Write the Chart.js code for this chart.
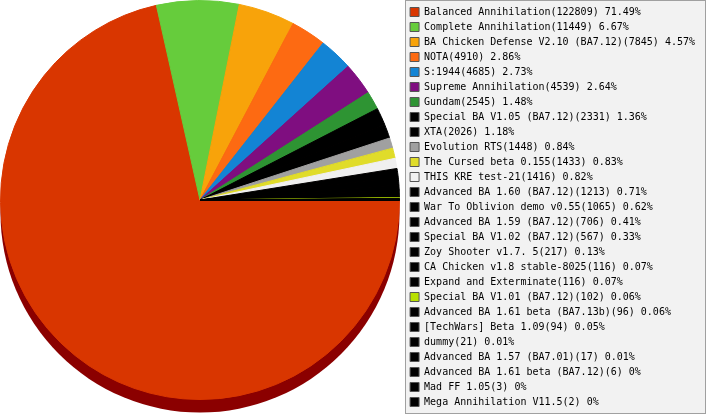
<!DOCTYPE html>
<html>
<head>
<meta charset="utf-8">
<script src="https://cdn.jsdelivr.net/npm/chart.js@4/dist/chart.umd.min.js"></script>
<style>
  html, body { margin: 0; padding: 0; background: #fff; }
</style>
</head>
<body>
<canvas id="myChart" width="707" height="415"></canvas>
<script>
var names = [
  "Balanced Annihilation", "Complete Annihilation", "BA Chicken Defense V2.10 (BA7.12)",
  "NOTA", "S:1944", "Supreme Annihilation", "Gundam", "Special BA V1.05 (BA7.12)",
  "XTA", "Evolution RTS", "The Cursed beta 0.155", "THIS KRE test-21",
  "Advanced BA 1.60 (BA7.12)", "War To Oblivion demo v0.55", "Advanced BA 1.59 (BA7.12)",
  "Special BA V1.02 (BA7.12)", "Zoy Shooter v1.7. 5", "CA Chicken v1.8 stable-8025",
  "Expand and Exterminate", "Special BA V1.01 (BA7.12)", "Advanced BA 1.61 beta (BA7.13b)",
  "[TechWars] Beta 1.09", "dummy", "Advanced BA 1.57 (BA7.01)",
  "Advanced BA 1.61 beta (BA7.12)", "Mad FF 1.05", "Mega Annihilation V11.5"
];
var counts = [122809, 11449, 7845, 4910, 4685, 4539, 2545, 2331, 2026, 1448, 1433, 1416,
  1213, 1065, 706, 567, 217, 116, 116, 102, 96, 94, 21, 17, 6, 3, 2];
var percents = ["71.49", "6.67", "4.57", "2.86", "2.73", "2.64", "1.48", "1.36", "1.18",
  "0.84", "0.83", "0.82", "0.71", "0.62", "0.41", "0.33", "0.13", "0.07", "0.07", "0.06",
  "0.06", "0.05", "0.01", "0.01", "0", "0", "0"];
var sliceColors = ["#d93600", "#66cc3c", "#f8a30a", "#fd6a12", "#1384d4", "#7f0e80",
  "#2e9433", "#000000", "#000000", "#a0a0a0", "#e0dc2a", "#f0f0f0",
  "#000000", "#000000", "#000000", "#000000", "#000000", "#000000",
  "#000000", "#b8e000", "#000000", "#000000", "#000000", "#000000",
  "#000000", "#000000", "#000000"];

// keep the pie in a 400x400 square on the left, leave room for the dark side
var pieArea = {
  id: "pieArea",
  afterLayout(chart) {
    var a = chart.chartArea;
    a.left = 0; a.top = 0; a.right = 400; a.bottom = 400;
    a.width = 400; a.height = 400;
    chart.legend.top += 2;
  }
};

// dark side under the pie, like the old 3d look
var pieShadow = {
  id: "pieShadow",
  beforeDatasetsDraw(chart) {
    var arc = chart.getDatasetMeta(0).data[0];
    if (!arc) return;
    var ctx = chart.ctx;
    ctx.save();
    ctx.fillStyle = "#8b0000";
    ctx.beginPath();
    ctx.arc(arc.x, arc.y + 13, arc.outerRadius, 0, Math.PI * 2);
    ctx.fill();
    ctx.restore();
  }
};

// grey box behind the legend
var legendBox = {
  id: "legendBox",
  beforeDraw(chart) {
    var ctx = chart.ctx;
    ctx.save();
    ctx.fillStyle = "#f2f2f2";
    ctx.strokeStyle = "#a0a0a0";
    ctx.lineWidth = 1;
    ctx.fillRect(405.5, 0.5, 300, 413);
    ctx.strokeRect(405.5, 0.5, 300, 413);
    ctx.restore();
  }
};

new Chart(document.getElementById("myChart"), {
  type: "pie",
  data: {
    labels: names,
    datasets: [{
      data: counts,
      backgroundColor: sliceColors,
      borderColor: sliceColors,
      borderWidth: 1
    }]
  },
  options: {
    responsive: false,
    animation: false,
    devicePixelRatio: 1,
    rotation: 90,
    layout: { padding: { top: 0, left: 0, right: 2, bottom: 0 } },
    plugins: {
      tooltip: { enabled: false },
      legend: {
        position: "right",
        align: "start",
        labels: {
          boxWidth: 9,
          boxHeight: 9,
          padding: 5,
          color: "#000",
          font: { family: "'DejaVu Sans Mono', monospace", size: 10 },
          generateLabels(chart) {
            return names.map(function (n, i) {
              return {
                text: n + "(" + counts[i] + ") " + percents[i] + "%",
                fillStyle: sliceColors[i],
                strokeStyle: "#555555",
                lineWidth: 1,
                fontColor: "#000",
                hidden: false,
                index: i
              };
            });
          }
        }
      }
    }
  },
  plugins: [pieArea, pieShadow, legendBox]
});
</script>
</body>
</html>
